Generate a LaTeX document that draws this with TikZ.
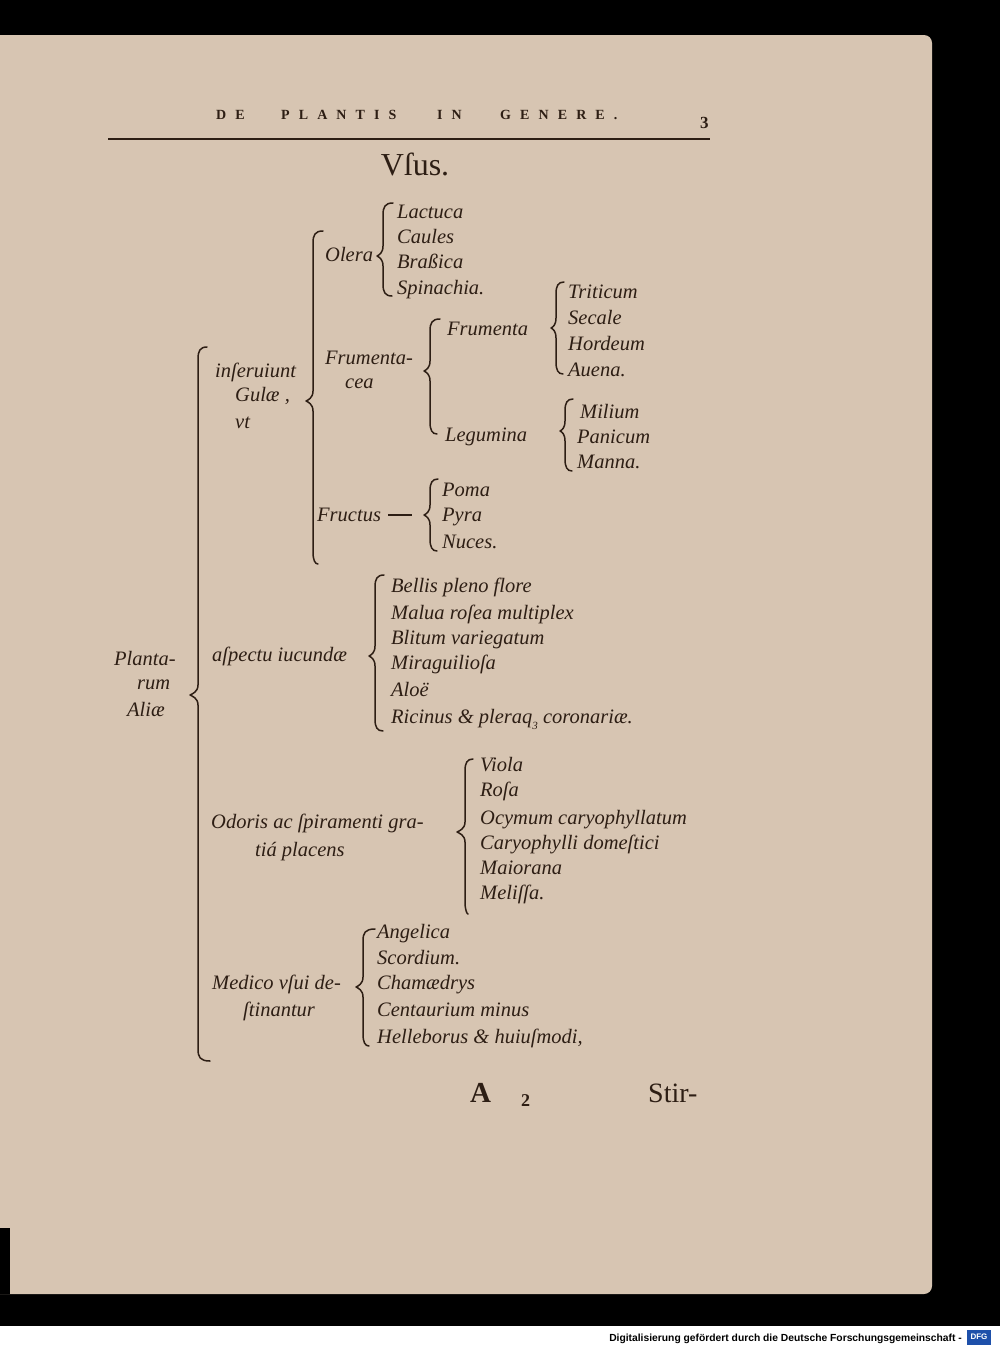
\documentclass[tikz,border=0pt]{standalone}
\usepackage{fontspec}
\setmainfont{Liberation Serif}
\newfontfamily\hdrfont[LetterSpace=65]{Liberation Serif}
\newfontfamily\credfont{Liberation Sans}
\definecolor{paper}{RGB}{215,197,178}
\definecolor{ink}{RGB}{45,30,20}
\definecolor{dfgblue}{RGB}{30,80,170}
\newcommand\itm{\fontsize{20.5}{24}\selectfont\itshape}
\newcommand\mybrace[7]{%
  \draw[brc] (#6,{#2-1}) .. controls ({#1+2},{#2-1}) and (#1,{#2+3}) .. (#1,{#2+11}) -- (#1,{#3-10})
    .. controls (#1,{#3-3}) and ({#5+2},{#3-1}) .. (#5,#3)
    .. controls ({#5+2},{#3+1}) and (#1,{#3+3}) .. (#1,{#3+10})
    -- (#1,{#4-11}) .. controls (#1,{#4-3}) and ({#1+2},{#4+1}) .. (#7,{#4+1});}
\tikzset{
  itm/.style={font=\itm, text=ink, anchor=base west, inner sep=0pt},
  hdr/.style={font=\hdrfont\bfseries\fontsize{14}{14}\selectfont, text=ink, anchor=base west, inner sep=0pt},
  brc/.style={draw=ink, line width=1.5pt, line cap=round, line join=round},
}
\begin{document}
\begin{tikzpicture}[x=1pt,y=-1pt]
\useasboundingbox (0,0) rectangle (1000,1347);
% background and page
\fill[black] (0,0) rectangle (1000,1326);
\fill[white] (0,1326) rectangle (1000,1347);
\fill[paper] (0,35) -- (924,35) to[out=0,in=90] (932,43) -- (932,1286)
  to[out=-90,in=0] (924,1294) -- (0,1294) -- cycle;
\fill[black] (0,1228) rectangle (10,1294);

% running head
\node[hdr] (h1) at (216,119) {DE};
\node[hdr] (h2) at (281,119) {PLANTIS};
\node[hdr] (h3) at (437,119) {IN};
\node[hdr] (h4) at (500,119) {GENERE.};
\node[font=\bfseries\fontsize{17}{17}\selectfont, text=ink, anchor=base west, inner sep=0pt] (pg) at (700,128) {3};
\draw[ink, line width=2.5pt] (108,139) -- (710,139);
\node[font=\fontsize{32}{36}\selectfont, text=ink, anchor=base, inner sep=0pt] (title) at (415,175) {Vſus.};

% level 0
\node[itm] (pl1) at (114,665) {Planta-};
\node[itm] (pl2) at (137,689) {rum};
\node[itm] (pl3) at (127,716) {Aliæ};
\mybrace{198}{348}{695}{1060}{190}{207}{210}

% inseruiunt Gulae
\node[itm] (ins1) at (215,377) {inſeruiunt};
\node[itm] (ins2) at (235,401) {Gulæ ,};
\node[itm] (ins3) at (235,428) {vt};
\mybrace{313}{232}{401}{563}{306}{323}{318}

% Olera
\node[itm] (olera) at (325,261) {Olera};
\mybrace{383}{204}{256}{295}{377}{393}{392}
\node[itm] (ol1) at (397,218) {Lactuca};
\node[itm] (ol2) at (397,243) {Caules};
\node[itm] (ol3) at (397,268) {Braßica};
\node[itm] (ol4) at (397,294) {Spinachia.};

% Frumentacea
\node[itm] (fa1) at (325,364) {Frumenta-};
\node[itm] (fa2) at (345,388) {cea};
\mybrace{430}{320}{371}{433}{424}{440}{437}
\node[itm] (frum) at (447,335) {Frumenta};
\node[itm] (leg) at (445,441) {Legumina};
\mybrace{556}{283}{328}{373}{551}{564}{563}
\node[itm] (fr1) at (568,298) {Triticum};
\node[itm] (fr2) at (568,324) {Secale};
\node[itm] (fr3) at (568,350) {Hordeum};
\node[itm] (fr4) at (568,376) {Auena.};
\mybrace{565}{400}{431}{470}{560}{573}{572}
\node[itm] (lg1) at (580,418) {Milium};
\node[itm] (lg2) at (577,443) {Panicum};
\node[itm] (lg3) at (577,468) {Manna.};

% Fructus
\node[itm] (fruct) at (317,521) {Fructus};
\coordinate (fdash) at (412,515);
\draw[ink, line width=1.8pt] ([xshift=7pt]fruct.east |- fdash) -- (fdash);
\mybrace{430}{480}{515}{550}{424}{438}{437}
\node[itm] (fc1) at (442,496) {Poma};
\node[itm] (fc2) at (442,521) {Pyra};
\node[itm] (fc3) at (442,548) {Nuces.};

% aspectu iucundae
\node[itm] (asp) at (212,661) {aſpectu iucundæ};
\mybrace{375}{576}{656}{730}{369}{384}{383}
\node[itm] (as1) at (391,592) {Bellis pleno flore};
\node[itm] (as2) at (391,619) {Malua roſea multiplex};
\node[itm] (as3) at (391,644) {Blitum variegatum};
\node[itm] (as4) at (391,669) {Miraguilioſa};
\node[itm] (as5) at (391,696) {Aloë};
\node[itm] (as6) at (391,723) {Ricinus \& pleraq\raisebox{-0.3em}{\fontsize{11}{11}\selectfont 3} coronariæ.};

% Odoris
\node[itm] (od1) at (211,828) {Odoris ac ſpiramenti gra-};
\node[itm] (od2) at (255,856) {tiá placens};
\mybrace{465}{760}{832}{913}{457}{473}{468}
\node[itm] (o1) at (480,771) {Viola};
\node[itm] (o2) at (480,796) {Roſa};
\node[itm] (o3) at (480,824) {Ocymum caryophyllatum};
\node[itm] (o4) at (480,849) {Caryophylli domeſtici};
\node[itm] (o5) at (480,874) {Maiorana};
\node[itm] (o6) at (480,899) {Meliſſa.};

% Medico
\node[itm] (md1) at (212,989) {Medico vſui de-};
\node[itm] (md2) at (243,1016) {ſtinantur};
\mybrace{363}{930}{987}{1045}{356}{375}{369}
\node[itm] (m1) at (377,938) {Angelica};
\node[itm] (m2) at (377,964) {Scordium.};
\node[itm] (m3) at (377,989) {Chamædrys};
\node[itm] (m4) at (377,1016) {Centaurium minus};
\node[itm] (m5) at (377,1043) {Helleborus \& huiuſmodi,};

% footer
\node[font=\bfseries\fontsize{29}{30}\selectfont, text=ink, anchor=base west, inner sep=0pt] (sigA) at (470,1102) {A};
\node[font=\bfseries\fontsize{18}{18}\selectfont, text=ink, anchor=base west, inner sep=0pt] (sig2) at (521,1106) {2};
\node[font=\fontsize{28}{30}\selectfont, text=ink, anchor=base west, inner sep=0pt] (stir) at (648,1102) {Stir-};

% digitisation credit
\node[font=\credfont\bfseries\fontsize{10.3}{11}\selectfont, anchor=base east, inner sep=0pt] (cred) at (962,1341) {Digitalisierung gefördert durch die Deutsche Forschungsgemeinschaft -};
\node[fill=dfgblue, text=white, font=\credfont\bfseries\fontsize{8}{8}\selectfont, inner sep=0pt, minimum width=24pt, minimum height=15pt] (dfg) at (979,1337) {DFG};
\end{tikzpicture}
\end{document}
